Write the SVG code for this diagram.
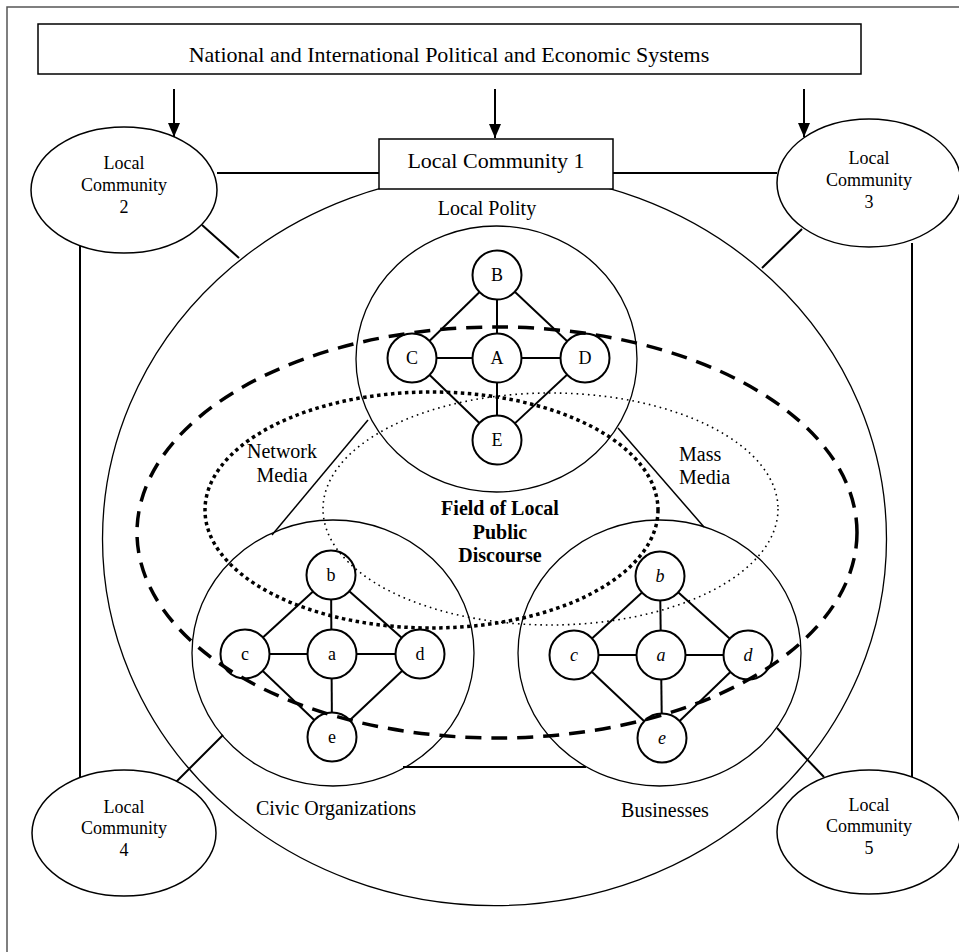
<svg xmlns="http://www.w3.org/2000/svg" width="959" height="952" viewBox="0 0 959 952">
<defs>
<marker id="ah" markerUnits="userSpaceOnUse" markerWidth="14" markerHeight="12" refX="14" refY="6" orient="auto">
<path d="M0,0 L14,6 L0,12 z" fill="#000"/>
</marker>
<style>
.t{font-family:"Liberation Serif","Times New Roman",serif;fill:#000}
.big{font-size:22px;text-anchor:middle}
.lbl{font-size:20px}
.mid{text-anchor:middle}
.lc{font-size:18px;text-anchor:middle}
.lce{fill:#fff;stroke:#000;stroke-width:1.5}
.nd circle{fill:#fff;stroke:#000;stroke-width:2}
.nd text{font-family:"Liberation Serif","Times New Roman",serif;font-size:18px;text-anchor:middle}
.it text{font-style:italic}
.edge{stroke:#000;stroke-width:2}
.conn line{stroke:#000;stroke-width:2}
.thin{fill:none;stroke:#000;stroke-width:1.3}
.dash{fill:none;stroke:#000;stroke-width:3.5;stroke-dasharray:16 10}
.dotb{fill:none;stroke:#000;stroke-width:3.5;stroke-dasharray:3.5 3.5}
.dots{fill:none;stroke:#000;stroke-width:1.6;stroke-dasharray:1.6 4}
</style>
</defs>
<rect x="7" y="7" width="970" height="970" fill="#fff" stroke="#555" stroke-width="1.5"/>

<g id="lc1-region">
<ellipse class="thin" cx="494.5" cy="539" rx="392" ry="366.6"/>
</g>

<g id="connectors">
<line x1="174" y1="89" x2="174" y2="137" stroke="#000" stroke-width="2" marker-end="url(#ah)"/>
<line x1="495" y1="89" x2="495" y2="138" stroke="#000" stroke-width="2" marker-end="url(#ah)"/>
<line x1="804" y1="89" x2="804" y2="137" stroke="#000" stroke-width="2" marker-end="url(#ah)"/>
<g class="conn">
<line x1="217" y1="173" x2="379" y2="173"/>
<line x1="613" y1="173" x2="777" y2="173"/>
<line x1="202" y1="225" x2="239" y2="258"/>
<line x1="802" y1="229" x2="762" y2="268"/>
<line x1="80" y1="245" x2="80" y2="778"/>
<line x1="912" y1="243" x2="912" y2="777"/>
<line x1="175" y1="783" x2="223" y2="735"/>
<line x1="824" y1="777" x2="777" y2="728"/>
<line x1="403" y1="767" x2="586" y2="767"/>
<line x1="368" y1="420" x2="272" y2="535" style="stroke-width:1.5"/>
<line x1="618" y1="428" x2="704" y2="527" style="stroke-width:1.5"/>
</g>
</g>

<g id="systems">
<rect x="38" y="24" width="823" height="50" fill="#fff" stroke="#000" stroke-width="1.5"/>
<text class="t big" x="449" y="62">National and International Political and Economic Systems</text>
</g>

<g id="lc1">
<rect x="379" y="139" width="234" height="50" fill="#fff" stroke="#000" stroke-width="1.5"/>
<text class="t big" x="496" y="168">Local Community 1</text>
</g>

<g id="lc2">
<ellipse class="lce" cx="124" cy="190" rx="93" ry="63"/>
<text class="t lc" x="124" y="169">Local</text>
<text class="t lc" x="124" y="191">Community</text>
<text class="t lc" x="124" y="213">2</text>
</g>
<g id="lc3">
<ellipse class="lce" cx="869" cy="183" rx="92" ry="64"/>
<text class="t lc" x="869" y="164">Local</text>
<text class="t lc" x="869" y="186">Community</text>
<text class="t lc" x="869" y="208">3</text>
</g>
<g id="lc4">
<ellipse class="lce" cx="124" cy="833" rx="92" ry="63"/>
<text class="t lc" x="124" y="813">Local</text>
<text class="t lc" x="124" y="834">Community</text>
<text class="t lc" x="124" y="856">4</text>
</g>
<g id="lc5">
<ellipse class="lce" cx="869" cy="832" rx="92" ry="62"/>
<text class="t lc" x="869" y="811">Local</text>
<text class="t lc" x="869" y="832">Community</text>
<text class="t lc" x="869" y="854">5</text>
</g>

<g id="polity">
<ellipse class="thin" cx="496.5" cy="359" rx="140.5" ry="133"/>
<text class="t lbl mid" x="487" y="215">Local Polity</text>
<g class="edges">
<line class="edge" x1="497" y1="275" x2="497" y2="440"/>
<line class="edge" x1="412" y1="358" x2="585" y2="358"/>
<line class="edge" x1="497" y1="275" x2="412" y2="358"/>
<line class="edge" x1="497" y1="275" x2="585" y2="358"/>
<line class="edge" x1="412" y1="358" x2="497" y2="440"/>
<line class="edge" x1="585" y1="358" x2="497" y2="440"/>
</g>
<g class="nd" id="nB"><circle cx="497" cy="275" r="24.5"/><text x="497" y="281">B</text></g>
<g class="nd" id="nC"><circle cx="412" cy="358" r="24.5"/><text x="412" y="364">C</text></g>
<g class="nd" id="nA"><circle cx="497" cy="358" r="24.5"/><text x="497" y="364">A</text></g>
<g class="nd" id="nD"><circle cx="585" cy="358" r="24.5"/><text x="585" y="364">D</text></g>
<g class="nd" id="nE"><circle cx="497" cy="440" r="24.5"/><text x="497" y="446">E</text></g>
</g>

<g id="civic">
<ellipse class="thin" cx="333" cy="653" rx="141" ry="133"/>
<text class="t lbl mid" x="336" y="815">Civic Organizations</text>
<g class="edges">
<line class="edge" x1="331" y1="575" x2="332" y2="737"/>
<line class="edge" x1="245" y1="654" x2="420" y2="654"/>
<line class="edge" x1="331" y1="575" x2="245" y2="654"/>
<line class="edge" x1="331" y1="575" x2="420" y2="654"/>
<line class="edge" x1="245" y1="654" x2="332" y2="737"/>
<line class="edge" x1="420" y1="654" x2="332" y2="737"/>
</g>
<g class="nd" id="cb"><circle cx="331" cy="575" r="24.5"/><text x="331" y="581">b</text></g>
<g class="nd" id="cc"><circle cx="245" cy="654" r="24.5"/><text x="245" y="660">c</text></g>
<g class="nd" id="ca"><circle cx="332" cy="654" r="24.5"/><text x="332" y="660">a</text></g>
<g class="nd" id="cd"><circle cx="420" cy="654" r="24.5"/><text x="420" y="660">d</text></g>
<g class="nd" id="ce"><circle cx="332" cy="737" r="24.5"/><text x="332" y="743">e</text></g>
</g>

<g id="business">
<ellipse class="thin" cx="659.5" cy="653" rx="141.5" ry="133"/>
<text class="t lbl mid" x="665" y="817">Businesses</text>
<g class="edges">
<line class="edge" x1="660" y1="576" x2="662" y2="738"/>
<line class="edge" x1="574" y1="655" x2="748" y2="655"/>
<line class="edge" x1="660" y1="576" x2="574" y2="655"/>
<line class="edge" x1="660" y1="576" x2="748" y2="655"/>
<line class="edge" x1="574" y1="655" x2="662" y2="738"/>
<line class="edge" x1="748" y1="655" x2="662" y2="738"/>
</g>
<g class="nd it" id="bb"><circle cx="660" cy="576" r="24.5"/><text x="660" y="582">b</text></g>
<g class="nd it" id="bc"><circle cx="574" cy="655" r="24.5"/><text x="574" y="661">c</text></g>
<g class="nd it" id="ba"><circle cx="661" cy="655" r="24.5"/><text x="661" y="661">a</text></g>
<g class="nd it" id="bd"><circle cx="748" cy="655" r="24.5"/><text x="748" y="661">d</text></g>
<g class="nd it" id="be"><circle cx="662" cy="738" r="24.5"/><text x="662" y="744">e</text></g>
</g>

<g id="discourse">
<ellipse class="dash" cx="497" cy="532.5" rx="360" ry="205.5"/>
<ellipse class="dotb" cx="431.5" cy="510" rx="226.5" ry="118"/>
<ellipse class="dots" cx="550.5" cy="509" rx="227.5" ry="116"/>
<text class="t lbl mid" x="282" y="458">Network</text>
<text class="t lbl mid" x="282" y="482">Media</text>
<text class="t lbl" x="679" y="461">Mass</text>
<text class="t lbl" x="679" y="484">Media</text>
<text class="t lbl mid" x="500" y="515" font-weight="bold">Field of Local</text>
<text class="t lbl mid" x="500" y="539" font-weight="bold">Public</text>
<text class="t lbl mid" x="500" y="562" font-weight="bold">Discourse</text>
</g>
</svg>
